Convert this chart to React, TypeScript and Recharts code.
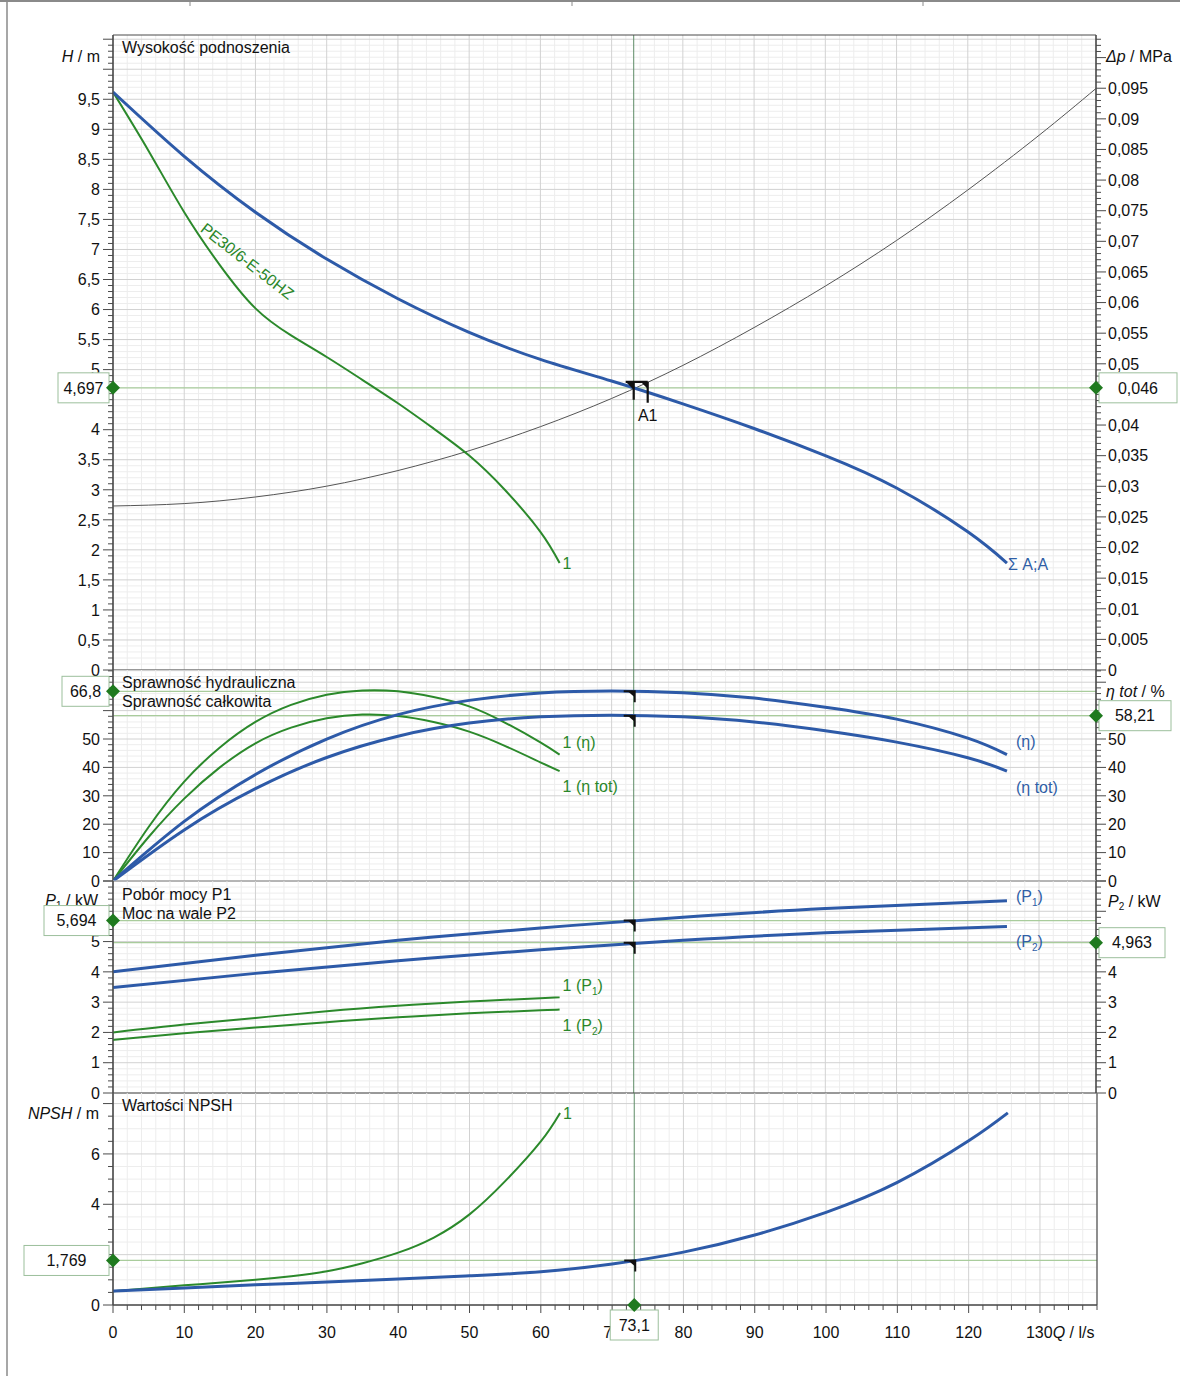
import React from 'react';
import { LineChart, Line, XAxis, YAxis, ReferenceLine, ReferenceDot } from 'recharts';

const FONT = '"Liberation Sans", Arial, Helvetica, sans-serif';
const BLUE = '#2d5aa8';
const GREEN = '#2b892b';
const TXT_BLUE = '#2f5ea6';
const TXT_GREEN = '#2a872a';
const GRID_MINOR = '#ededed';
const GRID_MAJOR = '#d2d2d2';
const OP_H = '#a9cc9c';
const OP_V = '#5e8c66';
const AXIS = '#4a4a4a';
const BOX_STROKE = '#9cbf9c';
const DIAMOND = '#1f7a1f';
const TXT = '#111';

// ---- shared flow axis (Q / l/s) ----
const Q_MAX = 138;
const Q_LABELS = [0, 10, 20, 30, 40, 50, 60, 70, 80, 90, 100, 110, 120, 130];
const Q_OP = 73.1;

// ---- head panel ----
const H_MAX = 10.57;
const MPA_PER_M = 0.00981;
const DP_MAX = H_MAX * MPA_PER_M;
const H_LABELS = [0, 0.5, 1, 1.5, 2, 2.5, 3, 3.5, 4, 5, 5.5, 6, 6.5, 7, 7.5, 8, 8.5, 9, 9.5];
const DP_LABELS = [0, 0.005, 0.01, 0.015, 0.02, 0.025, 0.03, 0.035, 0.04, 0.05, 0.055, 0.06, 0.065, 0.07, 0.075, 0.08, 0.085, 0.09, 0.095];
const H_OP = 4.697;
const DP_OP_LABEL = '0,046';

const Q_H_TOTAL = [0, 10, 20, 30, 40, 50, 60, 70, 80, 90, 100, 110, 120, 125.5];
const H_TOTAL = [9.62, 8.55, 7.62, 6.84, 6.18, 5.62, 5.17, 4.81, 4.43, 4.02, 3.57, 3.03, 2.3, 1.78];
const Q_H_SINGLE = [0, 5, 10, 15, 20, 25, 30, 35, 40, 45, 50, 55, 60, 62.7];
const H_SINGLE = [9.62, 8.64, 7.62, 6.74, 6.02, 5.57, 5.21, 4.83, 4.44, 4.02, 3.57, 3.0, 2.3, 1.78];
const Q_SYSTEM = [0, 10, 20, 30, 40, 50, 60, 70, 80, 90, 100, 110, 120, 130, 138];
const H_SYSTEM = [2.73, 2.77, 2.88, 3.06, 3.32, 3.65, 4.05, 4.52, 5.07, 5.7, 6.39, 7.15, 7.99, 8.9, 9.68];

// ---- efficiency panel ----
const ETA_MAX = 74.3;
const ETA_LABELS = [0, 10, 20, 30, 40, 50];
const ETA_OP = 66.8;
const ETA_TOT_OP = 58.21;
const Q_ETA_TOTAL = [0, 10, 20, 30, 40, 50, 60, 70, 80, 90, 100, 110, 120, 125.5];
const ETA_TOTAL = [0, 21, 37.5, 50, 58.6, 63.6, 66.2, 66.9, 66.3, 64.4, 61.2, 57, 50.3, 44.5];
const ETA_TOT_TOTAL = [0, 18, 32.5, 43.5, 51, 55.6, 57.8, 58.4, 57.8, 56, 52.9, 48.9, 43.4, 38.7];
const Q_ETA_SINGLE = [0, 5, 10, 15, 20, 25, 30, 35, 40, 45, 50, 55, 60, 62.7];
const ETA_SINGLE = [0, 19, 35, 47, 56, 62, 65.6, 67.1, 66.8, 64.8, 61.5, 55.8, 48.8, 44.5];
const ETA_TOT_SINGLE = [0, 15.5, 29, 40, 48.5, 54, 57.3, 58.6, 58.1, 56, 52.6, 47.6, 41.8, 38.7];

// ---- power panel ----
const P_MAX = 7;
const P1_LABELS = [0, 1, 2, 3, 4, 5];
const P2_LABELS = [0, 1, 2, 3, 4];
const P1_OP = 5.694;
const P2_OP = 4.963;
const Q_P_TOTAL = [0, 20, 40, 60, 80, 100, 125.5];
const P1_TOTAL = [4.0, 4.55, 5.04, 5.45, 5.8, 6.09, 6.35];
const P2_TOTAL = [3.48, 3.95, 4.37, 4.73, 5.04, 5.29, 5.5];
const Q_P_SINGLE = [0, 10, 20, 30, 40, 50, 60, 62.7];
const P1_SINGLE = [2.0, 2.26, 2.48, 2.7, 2.88, 3.02, 3.13, 3.16];
const P2_SINGLE = [1.75, 1.97, 2.16, 2.34, 2.5, 2.63, 2.73, 2.76];

// ---- NPSH panel ----
const NPSH_MAX = 8.42;
const NPSH_LABELS = [0, 4, 6];
const NPSH_OP = 1.769;
const Q_NPSH_TOTAL = [0, 10, 20, 30, 40, 50, 60, 70, 80, 90, 100, 110, 120, 125.5];
const NPSH_TOTAL = [0.55, 0.68, 0.8, 0.91, 1.03, 1.16, 1.32, 1.63, 2.1, 2.78, 3.68, 4.87, 6.52, 7.63];
const Q_NPSH_SINGLE = [0, 10, 20, 25, 30, 35, 40, 45, 50, 55, 60, 62.7];
const NPSH_SINGLE = [0.55, 0.78, 1.0, 1.14, 1.34, 1.66, 2.08, 2.68, 3.6, 4.92, 6.5, 7.63];

// ---- helpers ----
const isMult = (v: number, s: number) => Math.abs(v / s - Math.round(v / s)) < 1e-6;
const range = (end: number, step: number) => {
  const r: number[] = [];
  for (let i = 0; i * step <= end + 1e-9; i++) r.push(Math.round(i * step * 1e6) / 1e6);
  return r;
};
const fmt = (v: number) => String(Math.round(v * 1e6) / 1e6).replace('.', ',');
const pts = (qs: number[], vs: number[]) => qs.map((q, i) => ({ q, v: vs[i] }));
const has = (arr: number[], v: number) => arr.some((a) => Math.abs(a - v) < 1e-9);

const Q_TICKS = range(Q_MAX, 2);

const leftTick = (step: number, labels: number[]) => (p: any) => {
  const v = p.payload.value;
  const major = isMult(v, step);
  return (
    <g>
      <line x1={p.x - (major ? 10 : 5)} x2={p.x} y1={p.y} y2={p.y} stroke={AXIS} strokeWidth={1} />
      {has(labels, v) && (
        <text x={p.x - 13} y={p.y} dy="0.36em" textAnchor="end" fontSize={16} fontFamily={FONT} fill={TXT}>
          {fmt(v)}
        </text>
      )}
    </g>
  );
};

const rightTick = (step: number, labels: number[]) => (p: any) => {
  const v = p.payload.value;
  const major = isMult(v, step);
  return (
    <g>
      <line x1={p.x} x2={p.x + (major ? 10 : 5)} y1={p.y} y2={p.y} stroke={AXIS} strokeWidth={1} />
      {has(labels, v) && (
        <text x={p.x + 12} y={p.y} dy="0.36em" textAnchor="start" fontSize={16} fontFamily={FONT} fill={TXT}>
          {fmt(v)}
        </text>
      )}
    </g>
  );
};

const bottomTick = (p: any) => {
  const v = p.payload.value;
  const major = isMult(v, 10);
  const show = has(Q_LABELS, v);
  return (
    <g>
      <line x1={p.x} x2={p.x} y1={p.y} y2={p.y + (major ? 8 : 5)} stroke={AXIS} strokeWidth={1} />
      {show && v !== 130 && (
        <text x={p.x} y={p.y + 33} textAnchor="middle" fontSize={16} fontFamily={FONT} fill={TXT}>
          {fmt(v)}
        </text>
      )}
      {show && v === 130 && (
        <text x={p.x - 14} y={p.y + 33} textAnchor="start" fontSize={16} fontFamily={FONT} fill={TXT}>
          130<tspan fontStyle="italic">Q</tspan> / l/s
        </text>
      )}
    </g>
  );
};

const grid = (yTicks: number[], yMajor: number, key: string) => {
  const els: any[] = [];
  Q_TICKS.filter((v) => !isMult(v, 10)).forEach((v) =>
    els.push(<ReferenceLine key={key + 'xm' + v} xAxisId="x" yAxisId="l" x={v} stroke={GRID_MINOR} strokeWidth={1} zIndex={-100} />)
  );
  yTicks.filter((v) => !isMult(v, yMajor)).forEach((v) =>
    els.push(<ReferenceLine key={key + 'ym' + v} xAxisId="x" yAxisId="l" y={v} stroke={GRID_MINOR} strokeWidth={1} zIndex={-100} />)
  );
  Q_TICKS.filter((v) => isMult(v, 10)).forEach((v) =>
    els.push(<ReferenceLine key={key + 'xM' + v} xAxisId="x" yAxisId="l" x={v} stroke={GRID_MAJOR} strokeWidth={1} zIndex={-100} />)
  );
  yTicks.filter((v) => isMult(v, yMajor)).forEach((v) =>
    els.push(<ReferenceLine key={key + 'yM' + v} xAxisId="x" yAxisId="l" y={v} stroke={GRID_MAJOR} strokeWidth={1} zIndex={-100} />)
  );
  return els;
};

const frame = (key: string) => [
  <ReferenceLine key={key + 'f0'} xAxisId="x" yAxisId="l" x={0} stroke={AXIS} strokeWidth={1.2} />,
  <ReferenceLine key={key + 'f1'} xAxisId="x" yAxisId="l" x={Q_MAX} stroke={AXIS} strokeWidth={1.2} />,
  <ReferenceLine key={key + 'f2'} xAxisId="x" yAxisId="l" y={0} stroke={AXIS} strokeWidth={1.2} />,
];

const diamond = (cx: number, cy: number) => (
  <path d={`M${cx},${cy - 7} L${cx + 7},${cy} L${cx},${cy + 7} L${cx - 7},${cy} Z`} fill={DIAMOND} />
);

const leftBox = (text: string, w: number) => (p: any) => (
  <g>
    <rect x={p.cx - 4 - w} y={p.cy - 15} width={w} height={30} fill="#fff" stroke={BOX_STROKE} strokeWidth={1} />
    <text x={p.cx - 4 - w / 2} y={p.cy} dy="0.36em" textAnchor="middle" fontSize={16} fontFamily={FONT} fill={TXT}>
      {text}
    </text>
    {diamond(p.cx, p.cy)}
  </g>
);

const rightBox = (text: string, w: number) => (p: any) => (
  <g>
    <rect x={p.cx + 3} y={p.cy - 15} width={w} height={30} fill="#fff" stroke={BOX_STROKE} strokeWidth={1} />
    <text x={p.cx + 3 + w / 2} y={p.cy} dy="0.36em" textAnchor="middle" fontSize={16} fontFamily={FONT} fill={TXT}>
      {text}
    </text>
    {diamond(p.cx, p.cy)}
  </g>
);

const bottomBox = (text: string, w: number) => (p: any) => (
  <g>
    <rect x={p.cx - w / 2} y={p.cy + 5} width={w} height={30} fill="#fff" stroke={BOX_STROKE} strokeWidth={1} />
    <text x={p.cx} y={p.cy + 20} dy="0.36em" textAnchor="middle" fontSize={16} fontFamily={FONT} fill={TXT}>
      {text}
    </text>
    {diamond(p.cx, p.cy)}
  </g>
);

const flag = (p: any) => (
  <g>
    <path d={`M${p.cx - 10},${p.cy} L${p.cx + 1},${p.cy} L${p.cx + 1},${p.cy + 11}`} stroke="#111" strokeWidth={2} fill="none" />
    <path d={`M${p.cx - 6},${p.cy} L${p.cx + 1},${p.cy} L${p.cx + 1},${p.cy + 6} Z`} fill="#111" />
  </g>
);

const a1Marker = (p: any) => (
  <g>
    <path
      d={`M${p.cx - 8},${p.cy - 6} L${p.cx + 14},${p.cy - 6} M${p.cx},${p.cy - 6} L${p.cx},${p.cy + 12} M${p.cx + 14},${p.cy - 6} L${p.cx + 14},${p.cy + 15}`}
      stroke="#111"
      strokeWidth={2.2}
      fill="none"
    />
    <path d={`M${p.cx - 8},${p.cy - 6} L${p.cx},${p.cy - 6} L${p.cx},${p.cy + 2} Z`} fill="#111" />
    <path d={`M${p.cx + 7},${p.cy - 6} L${p.cx + 14},${p.cy - 6} L${p.cx + 14},${p.cy + 1} Z`} fill="#111" />
    <text x={p.cx + 14} y={p.cy + 33} textAnchor="middle" fontSize={16} fontFamily={FONT} fill="#111">
      A1
    </text>
  </g>
);

const label = (content: any, color: string, dx: number, dy: number, rotate = 0) => (p: any) => (
  <text
    x={p.cx + dx}
    y={p.cy + dy}
    dy="0.36em"
    fontSize={16}
    fontFamily={FONT}
    fill={color}
    transform={rotate ? `rotate(${rotate}, ${p.cx}, ${p.cy})` : undefined}
  >
    {content}
  </text>
);

const sub = (main: string, s: string, prefix = '') => (
  <>
    {prefix}({main}
    <tspan fontSize={10} dy={4}>
      {s}
    </tspan>
    <tspan dy={-4}>)</tspan>
  </>
);

const xHidden = <XAxis xAxisId="x" dataKey="q" type="number" domain={[0, Q_MAX]} allowDataOverflow hide />;

const lineProps = { xAxisId: 'x', yAxisId: 'l', dataKey: 'v', type: 'natural' as const, dot: false, isAnimationActive: false };

const MARGIN_LR = { left: 112, right: 83 };

const yAxisProps = {
  type: 'number' as const,
  allowDataOverflow: true,
  width: 1,
  interval: 0,
  tickSize: 0,
  tickMargin: 0,
  tickLine: false,
  axisLine: { stroke: AXIS },
};

export default function App() {
  const last = (qs: number[]) => qs[qs.length - 1];
  const lastV = (vs: number[]) => vs[vs.length - 1];
  return (
    <div style={{ position: 'absolute', left: 0, top: 0, width: 1180, height: 1376, background: '#fff', fontFamily: FONT }}>
      <svg width={1180} height={1376} style={{ position: 'absolute', left: 0, top: 0 }} fontFamily={FONT}>
        <text x={98} y={906} fontSize={16} fill={TXT} textAnchor="end">
          <tspan fontStyle="italic">P</tspan>
          <tspan fontSize={10} dy={3}>1</tspan>
          <tspan dy={-3}> / kW</tspan>
        </text>
      </svg>

      {/* Panel 1: head */}
      <div style={{ position: 'absolute', left: 0, top: 0 }}>
        <LineChart width={1180} height={680} margin={{ top: 35, bottom: 10, ...MARGIN_LR }}>
          {grid(range(H_MAX, 0.1), 0.5, 'h')}
          <ReferenceLine xAxisId="x" yAxisId="l" y={H_OP} stroke={OP_H} strokeWidth={1.2} />
          <ReferenceLine xAxisId="x" yAxisId="l" x={Q_OP} stroke={OP_V} strokeWidth={1} />
          <ReferenceLine xAxisId="x" yAxisId="l" y={H_MAX} stroke={AXIS} strokeWidth={1} />
          {frame('h')}
          {xHidden}
          <YAxis yAxisId="l" {...yAxisProps} domain={[0, H_MAX]} ticks={range(H_MAX, 0.1)} tick={leftTick(0.5, H_LABELS)} />
          <YAxis yAxisId="r" orientation="right" {...yAxisProps} domain={[0, DP_MAX]} ticks={range(DP_MAX, 0.001)} tick={rightTick(0.005, DP_LABELS)} />
          <Line {...lineProps} data={pts(Q_SYSTEM, H_SYSTEM)} stroke="#555" strokeWidth={1} />
          <Line {...lineProps} data={pts(Q_H_SINGLE, H_SINGLE)} stroke={GREEN} strokeWidth={2} />
          <Line {...lineProps} data={pts(Q_H_TOTAL, H_TOTAL)} stroke={BLUE} strokeWidth={3} />
          <ReferenceDot xAxisId="x" yAxisId="l" x={12.2} y={7.32} r={1} shape={label('PE30/6-E-50HZ', TXT_GREEN, 0, -5, 38)} />
          <ReferenceDot xAxisId="x" yAxisId="l" x={last(Q_H_SINGLE)} y={lastV(H_SINGLE)} r={1} shape={label('1', TXT_GREEN, 3, 0)} />
          <ReferenceDot xAxisId="x" yAxisId="l" x={last(Q_H_TOTAL)} y={lastV(H_TOTAL)} r={1} shape={label('Σ A;A', TXT_BLUE, 1, 1)} />
          <ReferenceDot xAxisId="x" yAxisId="l" x={Q_OP} y={H_OP} r={1} shape={a1Marker} zIndex={1500} />
          <ReferenceDot xAxisId="x" yAxisId="l" x={0} y={H_OP} r={1} shape={leftBox(fmt(H_OP), 51)} zIndex={2000} />
          <ReferenceDot xAxisId="x" yAxisId="l" x={Q_MAX} y={H_OP} r={1} shape={rightBox(DP_OP_LABEL, 78)} zIndex={2000} />
        </LineChart>
      </div>

      {/* Panel 2: efficiency */}
      <div style={{ position: 'absolute', left: 0, top: 660 }}>
        <LineChart width={1180} height={231} margin={{ top: 10, bottom: 10, ...MARGIN_LR }}>
          {grid(range(ETA_MAX, 2), 10, 'e')}
          <ReferenceLine xAxisId="x" yAxisId="l" y={ETA_OP} stroke={OP_H} strokeWidth={1.2} />
          <ReferenceLine xAxisId="x" yAxisId="l" y={ETA_TOT_OP} stroke={OP_H} strokeWidth={1.2} />
          <ReferenceLine xAxisId="x" yAxisId="l" x={Q_OP} stroke={OP_V} strokeWidth={1} />
          {frame('e')}
          {xHidden}
          <YAxis yAxisId="l" {...yAxisProps} domain={[0, ETA_MAX]} ticks={range(ETA_MAX, 2)} tick={leftTick(10, ETA_LABELS)} />
          <YAxis yAxisId="r" orientation="right" {...yAxisProps} domain={[0, ETA_MAX]} ticks={range(ETA_MAX, 2)} tick={rightTick(10, ETA_LABELS)} />
          <Line {...lineProps} data={pts(Q_ETA_SINGLE, ETA_SINGLE)} stroke={GREEN} strokeWidth={2} />
          <Line {...lineProps} data={pts(Q_ETA_SINGLE, ETA_TOT_SINGLE)} stroke={GREEN} strokeWidth={2} />
          <Line {...lineProps} data={pts(Q_ETA_TOTAL, ETA_TOTAL)} stroke={BLUE} strokeWidth={3} />
          <Line {...lineProps} data={pts(Q_ETA_TOTAL, ETA_TOT_TOTAL)} stroke={BLUE} strokeWidth={3} />
          <ReferenceDot xAxisId="x" yAxisId="l" x={last(Q_ETA_SINGLE)} y={lastV(ETA_SINGLE)} r={1} shape={label('1 (η)', TXT_GREEN, 3, -12)} />
          <ReferenceDot xAxisId="x" yAxisId="l" x={last(Q_ETA_SINGLE)} y={lastV(ETA_TOT_SINGLE)} r={1} shape={label('1 (η tot)', TXT_GREEN, 3, 15)} />
          <ReferenceDot xAxisId="x" yAxisId="l" x={last(Q_ETA_TOTAL)} y={lastV(ETA_TOTAL)} r={1} shape={label('(η)', TXT_BLUE, 9, -13)} />
          <ReferenceDot xAxisId="x" yAxisId="l" x={last(Q_ETA_TOTAL)} y={lastV(ETA_TOT_TOTAL)} r={1} shape={label('(η tot)', TXT_BLUE, 9, 16)} />
          <ReferenceDot xAxisId="x" yAxisId="l" x={Q_OP} y={ETA_OP} r={1} shape={flag} zIndex={1500} />
          <ReferenceDot xAxisId="x" yAxisId="l" x={Q_OP} y={ETA_TOT_OP} r={1} shape={flag} zIndex={1500} />
          <ReferenceDot xAxisId="x" yAxisId="l" x={0} y={ETA_OP} r={1} shape={leftBox(fmt(ETA_OP), 47)} zIndex={2000} />
          <ReferenceDot xAxisId="x" yAxisId="l" x={Q_MAX} y={ETA_TOT_OP} r={1} shape={rightBox(fmt(ETA_TOT_OP), 72)} zIndex={2000} />
        </LineChart>
      </div>

      {/* Panel 3: power */}
      <div style={{ position: 'absolute', left: 0, top: 871 }}>
        <LineChart width={1180} height={232} margin={{ top: 10, bottom: 10, ...MARGIN_LR }}>
          {grid(range(P_MAX, 0.2), 1, 'p')}
          <ReferenceLine xAxisId="x" yAxisId="l" y={P1_OP} stroke={OP_H} strokeWidth={1.2} />
          <ReferenceLine xAxisId="x" yAxisId="l" y={P2_OP} stroke={OP_H} strokeWidth={1.2} />
          <ReferenceLine xAxisId="x" yAxisId="l" x={Q_OP} stroke={OP_V} strokeWidth={1} />
          {frame('p')}
          {xHidden}
          <YAxis yAxisId="l" {...yAxisProps} domain={[0, P_MAX]} ticks={range(P_MAX, 0.2)} tick={leftTick(1, P1_LABELS)} />
          <YAxis yAxisId="r" orientation="right" {...yAxisProps} domain={[0, P_MAX]} ticks={range(P_MAX, 0.2)} tick={rightTick(1, P2_LABELS)} />
          <Line {...lineProps} data={pts(Q_P_SINGLE, P1_SINGLE)} stroke={GREEN} strokeWidth={2} />
          <Line {...lineProps} data={pts(Q_P_SINGLE, P2_SINGLE)} stroke={GREEN} strokeWidth={2} />
          <Line {...lineProps} data={pts(Q_P_TOTAL, P1_TOTAL)} stroke={BLUE} strokeWidth={3} />
          <Line {...lineProps} data={pts(Q_P_TOTAL, P2_TOTAL)} stroke={BLUE} strokeWidth={3} />
          <ReferenceDot xAxisId="x" yAxisId="l" x={last(Q_P_SINGLE)} y={lastV(P1_SINGLE)} r={1} shape={label(sub('P', '1', '1 '), TXT_GREEN, 3, -12)} />
          <ReferenceDot xAxisId="x" yAxisId="l" x={last(Q_P_SINGLE)} y={lastV(P2_SINGLE)} r={1} shape={label(sub('P', '2', '1 '), TXT_GREEN, 3, 16)} />
          <ReferenceDot xAxisId="x" yAxisId="l" x={last(Q_P_TOTAL)} y={lastV(P1_TOTAL)} r={1} shape={label(sub('P', '1'), TXT_BLUE, 9, -4)} />
          <ReferenceDot xAxisId="x" yAxisId="l" x={last(Q_P_TOTAL)} y={lastV(P2_TOTAL)} r={1} shape={label(sub('P', '2'), TXT_BLUE, 9, 15)} />
          <ReferenceDot xAxisId="x" yAxisId="l" x={Q_OP} y={P1_OP} r={1} shape={flag} zIndex={1500} />
          <ReferenceDot xAxisId="x" yAxisId="l" x={Q_OP} y={P2_OP} r={1} shape={flag} zIndex={1500} />
          <ReferenceDot xAxisId="x" yAxisId="l" x={0} y={P1_OP} r={1} shape={leftBox(fmt(P1_OP), 65)} zIndex={2000} />
          <ReferenceDot xAxisId="x" yAxisId="l" x={Q_MAX} y={P2_OP} r={1} shape={rightBox(fmt(P2_OP), 66)} zIndex={2000} />
        </LineChart>
      </div>

      {/* Panel 4: NPSH */}
      <div style={{ position: 'absolute', left: 0, top: 1083 }}>
        <LineChart width={1180} height={293} margin={{ top: 10, bottom: 70, ...MARGIN_LR }}>
          {grid(range(NPSH_MAX, 0.5), 2, 'n')}
          <ReferenceLine xAxisId="x" yAxisId="l" y={NPSH_OP} stroke={OP_H} strokeWidth={1.2} />
          <ReferenceLine xAxisId="x" yAxisId="l" x={Q_OP} stroke={OP_V} strokeWidth={1} />
          {frame('n')}
          <XAxis xAxisId="x" dataKey="q" type="number" domain={[0, Q_MAX]} allowDataOverflow height={1} ticks={Q_TICKS} interval={0}
            tickSize={0} tickMargin={0} tickLine={false} axisLine={{ stroke: AXIS }} tick={bottomTick} />
          <YAxis yAxisId="l" {...yAxisProps} domain={[0, NPSH_MAX]} ticks={range(NPSH_MAX, 0.5)} tick={leftTick(2, NPSH_LABELS)} />
          <Line {...lineProps} data={pts(Q_NPSH_SINGLE, NPSH_SINGLE)} stroke={GREEN} strokeWidth={2} />
          <Line {...lineProps} data={pts(Q_NPSH_TOTAL, NPSH_TOTAL)} stroke={BLUE} strokeWidth={3} />
          <ReferenceDot xAxisId="x" yAxisId="l" x={last(Q_NPSH_SINGLE)} y={lastV(NPSH_SINGLE)} r={1} shape={label('1', TXT_GREEN, 3, 0)} />
          <ReferenceDot xAxisId="x" yAxisId="l" x={Q_OP} y={NPSH_OP} r={1} shape={flag} zIndex={1500} />
          <ReferenceDot xAxisId="x" yAxisId="l" x={0} y={NPSH_OP} r={1} shape={leftBox(fmt(NPSH_OP), 85)} zIndex={2000} />
          <ReferenceDot xAxisId="x" yAxisId="l" x={Q_OP} y={0} r={1} shape={bottomBox(fmt(Q_OP), 48)} zIndex={2000} />
        </LineChart>
      </div>

      <svg width={1180} height={1376} style={{ position: 'absolute', left: 0, top: 0, pointerEvents: 'none' }} fontFamily={FONT}>
        <line x1={0} y1={1} x2={1180} y2={1} stroke="#8a8a8a" strokeWidth={2} />
        <line x1={7} y1={0} x2={7} y2={1376} stroke="#8a8a8a" strokeWidth={1.5} />
        <line x1={190} y1={0} x2={190} y2={6} stroke="#8a8a8a" />
        <line x1={572} y1={0} x2={572} y2={6} stroke="#8a8a8a" />
        <line x1={923} y1={0} x2={923} y2={6} stroke="#8a8a8a" />
        <text x={122} y={53} fontSize={16} fill={TXT}>Wysokość podnoszenia</text>
        <text x={100} y={62} fontSize={16} fill={TXT} textAnchor="end">
          <tspan fontStyle="italic">H</tspan> / m
        </text>
        <text x={1106} y={62} fontSize={16} fill={TXT}>
          <tspan fontStyle="italic">Δp</tspan> / MPa
        </text>
        <text x={122} y={688} fontSize={16} fill={TXT}>Sprawność hydrauliczna</text>
        <text x={122} y={707} fontSize={16} fill={TXT}>Sprawność całkowita</text>
        <text x={1106} y={697} fontSize={16} fill={TXT}>
          <tspan fontStyle="italic">η tot</tspan> / %
        </text>
        <text x={122} y={900} fontSize={16} fill={TXT}>Pobór mocy P1</text>
        <text x={122} y={919} fontSize={16} fill={TXT}>Moc na wale P2</text>
        <text x={1108} y={907} fontSize={16} fill={TXT}>
          <tspan fontStyle="italic">P</tspan>
          <tspan fontSize={10} dy={3}>2</tspan>
          <tspan dy={-3}> / kW</tspan>
        </text>
        <text x={122} y={1111} fontSize={16} fill={TXT}>Wartości NPSH</text>
        <text x={99} y={1119} fontSize={16} fill={TXT} textAnchor="end">
          <tspan fontStyle="italic">NPSH</tspan>  / m
        </text>
      </svg>
    </div>
  );
}
